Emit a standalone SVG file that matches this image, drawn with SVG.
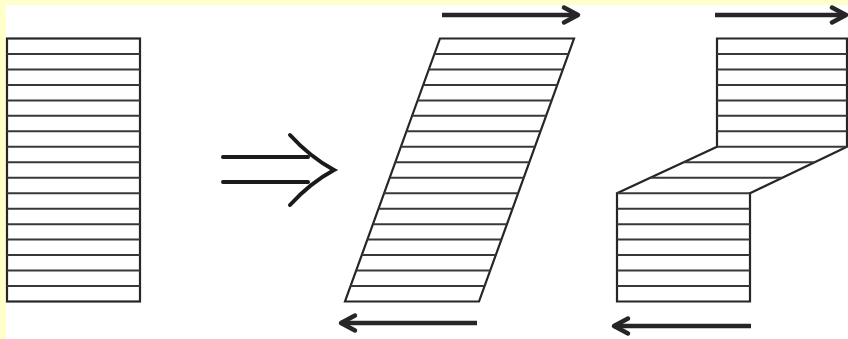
<svg xmlns="http://www.w3.org/2000/svg" width="848" height="339" viewBox="0 0 848 339">
  <style>
    .frame { fill: #ffffcc; }
    .outline { fill: #ffffff; stroke: #262626; stroke-width: 2.2; stroke-linejoin: miter; }
    .stripe { stroke: #383838; stroke-width: 2; fill: none; }
    .shear { stroke: #262626; stroke-width: 4.5; fill: none; stroke-linecap: butt; }
    .implies { stroke: #1a1a1a; stroke-width: 4; fill: none; stroke-linecap: round; }
  </style>
  <defs>
    <marker id="head" viewBox="-20 -12 24 24" refX="0" refY="0" markerWidth="24" markerHeight="24" markerUnits="userSpaceOnUse" orient="auto" overflow="visible">
      <path d="M-14,-7.5 L0,0 L-14,7.5" fill="none" stroke="#262626" stroke-width="4.5" stroke-linecap="round" stroke-linejoin="round"/>
    </marker>
  </defs>

  <rect width="848" height="339" fill="#ffffff"/>
  <rect class="frame" x="0" y="0" width="848" height="5"/>
  <rect class="frame" x="0" y="0" width="6" height="339"/>

  <!-- undeformed stack -->
  <g id="block-rest">
    <rect class="outline" x="7" y="38.5" width="133" height="263"/>
    <g class="stripe">
      <line x1="7" y1="53.97" x2="140" y2="53.97"/>
      <line x1="7" y1="69.44" x2="140" y2="69.44"/>
      <line x1="7" y1="84.91" x2="140" y2="84.91"/>
      <line x1="7" y1="100.38" x2="140" y2="100.38"/>
      <line x1="7" y1="115.85" x2="140" y2="115.85"/>
      <line x1="7" y1="131.32" x2="140" y2="131.32"/>
      <line x1="7" y1="146.79" x2="140" y2="146.79"/>
      <line x1="7" y1="162.26" x2="140" y2="162.26"/>
      <line x1="7" y1="177.73" x2="140" y2="177.73"/>
      <line x1="7" y1="193.2" x2="140" y2="193.2"/>
      <line x1="7" y1="208.67" x2="140" y2="208.67"/>
      <line x1="7" y1="224.14" x2="140" y2="224.14"/>
      <line x1="7" y1="239.61" x2="140" y2="239.61"/>
      <line x1="7" y1="255.08" x2="140" y2="255.08"/>
      <line x1="7" y1="270.55" x2="140" y2="270.55"/>
      <line x1="7" y1="286.02" x2="140" y2="286.02"/>
    </g>
  </g>

  <!-- implication arrow -->
  <g id="implies">
    <line class="implies" x1="223" y1="157" x2="308" y2="157"/>
    <line class="implies" x1="223" y1="182" x2="308" y2="182"/>
    <path class="implies" d="M290,135 Q310,157 334,170 Q310,183 290,205"/>
  </g>

  <!-- uniformly sheared stack -->
  <g id="block-sheared">
    <polygon class="outline" points="440,38.5 574,38.5 479,301.5 345,301.5"/>
    <g class="stripe">
      <line x1="434.41" y1="53.97" x2="568.41" y2="53.97"/>
      <line x1="428.82" y1="69.44" x2="562.82" y2="69.44"/>
      <line x1="423.24" y1="84.91" x2="557.24" y2="84.91"/>
      <line x1="417.65" y1="100.38" x2="551.65" y2="100.38"/>
      <line x1="412.06" y1="115.85" x2="546.06" y2="115.85"/>
      <line x1="406.47" y1="131.32" x2="540.47" y2="131.32"/>
      <line x1="400.88" y1="146.79" x2="534.88" y2="146.79"/>
      <line x1="395.29" y1="162.26" x2="529.29" y2="162.26"/>
      <line x1="389.71" y1="177.73" x2="523.71" y2="177.73"/>
      <line x1="384.12" y1="193.2" x2="518.12" y2="193.2"/>
      <line x1="378.53" y1="208.67" x2="512.53" y2="208.67"/>
      <line x1="372.94" y1="224.14" x2="506.94" y2="224.14"/>
      <line x1="367.35" y1="239.61" x2="501.35" y2="239.61"/>
      <line x1="361.76" y1="255.08" x2="495.76" y2="255.08"/>
      <line x1="356.18" y1="270.55" x2="490.18" y2="270.55"/>
      <line x1="350.59" y1="286.02" x2="484.59" y2="286.02"/>
    </g>
  </g>

  <!-- stack with localized slip band -->
  <g id="block-slip">
    <polygon class="outline" points="717,38.5 847,38.5 847,146.79 750,193.2 750,301.5 617,301.5 617,193.2 717,146.79"/>
    <g class="stripe">
      <line x1="717" y1="53.97" x2="847" y2="53.97"/>
      <line x1="717" y1="69.44" x2="847" y2="69.44"/>
      <line x1="717" y1="84.91" x2="847" y2="84.91"/>
      <line x1="717" y1="100.38" x2="847" y2="100.38"/>
      <line x1="717" y1="115.85" x2="847" y2="115.85"/>
      <line x1="717" y1="131.32" x2="847" y2="131.32"/>
      <line x1="717" y1="146.79" x2="847" y2="146.79"/>
      <line x1="683.67" y1="162.26" x2="814.67" y2="162.26"/>
      <line x1="650.33" y1="177.73" x2="782.33" y2="177.73"/>
      <line x1="617" y1="193.2" x2="750" y2="193.2"/>
      <line x1="617" y1="208.67" x2="750" y2="208.67"/>
      <line x1="617" y1="224.14" x2="750" y2="224.14"/>
      <line x1="617" y1="239.61" x2="750" y2="239.61"/>
      <line x1="617" y1="255.08" x2="750" y2="255.08"/>
      <line x1="617" y1="270.55" x2="750" y2="270.55"/>
      <line x1="617" y1="286.02" x2="750" y2="286.02"/>
    </g>
  </g>

  <!-- applied shear forces -->
  <g id="forces">
    <line class="shear" x1="442" y1="15" x2="578" y2="15" marker-end="url(#head)"/>
    <line class="shear" x1="477" y1="323" x2="341" y2="323" marker-end="url(#head)"/>
    <line class="shear" x1="715" y1="15" x2="846" y2="15" marker-end="url(#head)"/>
    <line class="shear" x1="751" y1="326" x2="614" y2="326" marker-end="url(#head)"/>
  </g>
</svg>
